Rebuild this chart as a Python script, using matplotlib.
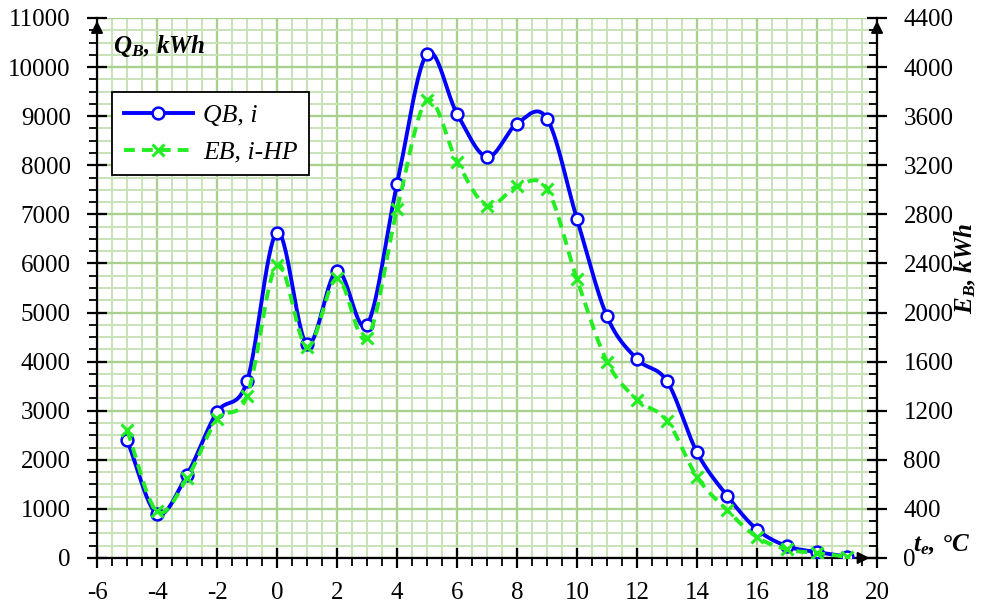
import numpy as np
import matplotlib

matplotlib.use("Agg")
import matplotlib.pyplot as plt
from matplotlib.ticker import MultipleLocator

plt.rcParams["font.family"] = ["Liberation Serif", "DejaVu Serif"]
plt.rcParams["axes.unicode_minus"] = False
plt.rcParams["mathtext.fontset"] = "custom"
plt.rcParams["mathtext.rm"] = "Liberation Serif"
plt.rcParams["mathtext.it"] = "Liberation Serif:italic"
plt.rcParams["mathtext.bf"] = "Liberation Serif:bold"
plt.rcParams["mathtext.bfit"] = "Liberation Serif:bold:italic"

# ── Data ──────────────────────────────────────────────────────
t_e = [-5, -4, -3, -2, -1, 0, 1, 2, 3, 4, 5, 6, 7, 8, 9, 10, 11, 12, 13, 14, 15, 16, 17, 18, 19]
qb_i = [2400, 900, 1700, 2970, 3600, 6630, 4350, 5850, 4750, 7620, 10270, 9050, 8170,
        8850, 8950, 6900, 4920, 4050, 3600, 2150, 1270, 580, 240, 120, 30]
eb_i_hp = [1040, 380, 650, 1130, 1320, 2390, 1720, 2280, 1790, 2840, 3730, 3230, 2870,
           3030, 3010, 2270, 1600, 1290, 1120, 660, 390, 170, 70, 40, 10]

BLUE = "#0000FF"
GREEN = "#22EE22"


def smooth(x, y, n=30):
    """Catmull-Rom smoothing between points (like a spreadsheet 'smoothed line')."""
    x = np.asarray(x, float)
    y = np.asarray(y, float)
    px = np.concatenate([[2 * x[0] - x[1]], x, [2 * x[-1] - x[-2]]])
    py = np.concatenate([[2 * y[0] - y[1]], y, [2 * y[-1] - y[-2]]])
    xs, ys = [], []
    t = np.linspace(0, 1, n, endpoint=False)
    for i in range(1, len(px) - 2):
        for arr, out in ((px, xs), (py, ys)):
            p0, p1, p2, p3 = arr[i - 1], arr[i], arr[i + 1], arr[i + 2]
            c1 = p1 + (p2 - p0) / 6
            c2 = p2 - (p3 - p1) / 6
            out.extend((1 - t) ** 3 * p1 + 3 * (1 - t) ** 2 * t * c1
                       + 3 * (1 - t) * t ** 2 * c2 + t ** 3 * p2)
    xs.append(x[-1])
    ys.append(y[-1])
    return np.array(xs), np.array(ys)


fig = plt.figure(figsize=(9.87, 6.04), dpi=100)
ax = fig.add_axes([0.0983, 0.0762, 0.7903, 0.894])
ax2 = ax.twinx()

# grid
ax.set_xlim(-6, 20)
ax.set_ylim(0, 11000)
ax2.set_ylim(0, 4400)
ax.xaxis.set_major_locator(MultipleLocator(2))
ax.xaxis.set_minor_locator(MultipleLocator(0.5))
ax.yaxis.set_major_locator(MultipleLocator(1000))
ax.yaxis.set_minor_locator(MultipleLocator(250))
ax2.yaxis.set_major_locator(MultipleLocator(400))
ax2.yaxis.set_minor_locator(MultipleLocator(100))
ax.grid(which="minor", color="#c9e2b8", lw=1.4, zorder=0)
ax.grid(which="major", color="#a9d08e", lw=1.7, zorder=0)
ax.set_axisbelow(True)

for a in (ax, ax2):
    for s in a.spines.values():
        s.set_linewidth(1.6)
    a.spines["top"].set_visible(False)
    a.tick_params(which="major", direction="inout", length=14, width=1.6, labelsize=18)
ax.tick_params(which="minor", direction="out", length=6, width=1.3)
ax2.tick_params(which="minor", direction="in", length=6, width=1.3)
ax.spines["right"].set_visible(False)
ax2.spines["left"].set_visible(False)
ax2.spines["bottom"].set_visible(False)
ax.tick_params(axis="x", which="major", pad=10)
ax.tick_params(axis="y", which="major", pad=12)
ax2.tick_params(axis="y", which="major", pad=12)

# curves
sx, sy = smooth(t_e, qb_i)
ax.plot(sx, sy, color=BLUE, lw=2.8, zorder=3)
ax.plot(t_e, qb_i, "o", color=BLUE, mfc="white", mew=1.8, ms=8.5, zorder=4)
ex, ey = smooth(t_e, eb_i_hp)
ax2.plot(ex, ey, color=GREEN, lw=2.8, ls=(0, (2.8, 1.8)), zorder=3)
ax2.plot(t_e, eb_i_hp, "x", color=GREEN, mew=2.2, ms=9, zorder=4)

# legend proxies
h1, = ax.plot([], [], "o-", color=BLUE, mfc="white", mew=1.8, ms=8.5, lw=2.8)
h2, = ax.plot([], [], "x", ls=(0, (2.8, 1.8)), color=GREEN, mew=2.2, ms=9, lw=2.8)
leg = ax2.legend([h1, h2], ["QB, i", "EB, i-HP"], loc="upper left",
                 bbox_to_anchor=(0.0192, 0.863), frameon=True, fancybox=False,
                 edgecolor="black", framealpha=1, borderpad=0.45, handlelength=2.7,
                 handletextpad=0.4, labelspacing=0.55, borderaxespad=0,
                 prop={"size": 18.5, "style": "italic"})
leg.get_frame().set_linewidth(1.3)
leg.set_zorder(10)

# axis arrows
arr = dict(arrowstyle="-|>", color="black", lw=1.4, mutation_scale=18)
ax.annotate("", xy=(-6, 11000), xytext=(-6, 10300), arrowprops=arr, annotation_clip=False)
ax.annotate("", xy=(20, 11000), xytext=(20, 10300), arrowprops=arr, annotation_clip=False)
ax.annotate("", xy=(19.85, 0), xytext=(18.8, 0), arrowprops=arr, annotation_clip=False)

# axis titles
ax.text(-5.48, 10430, r"$\mathbfit{Q_B}$, kWh", fontsize=18, fontweight="bold",
        style="italic", va="center", ha="left", zorder=6)
fig.text(0.978, 0.555, r"$\mathbfit{E_B}$, kWh", fontsize=18, fontweight="bold",
         style="italic", rotation=90, va="center", ha="center")
fig.text(0.925, 0.098, r"$\mathbfit{t_e}$, °C", fontsize=18, fontweight="bold",
         style="italic", va="center", ha="left")

fig.savefig("out.png", dpi=100)
